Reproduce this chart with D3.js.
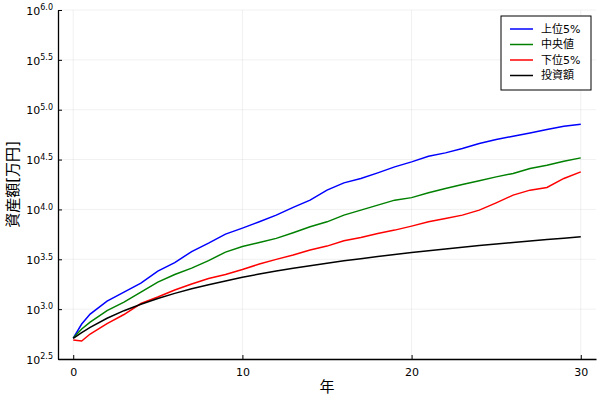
<!DOCTYPE html>
<html>
<head>
<meta charset="utf-8">
<script src="https://cdn.jsdelivr.net/npm/d3@7"></script>
<style>
  body { margin: 0; background: #fff; }
  text { font-family: "DejaVu Sans", "Noto Sans CJK JP", sans-serif; }
</style>
</head>
<body>
<div id="chart"></div>
<script>
// years since start
const years = [0, 0.5, 1, 2, 3, 4, 5, 6, 7, 8, 9, 10, 11, 12, 13, 14, 15,
  16, 17, 18, 19, 20, 21, 22, 23, 24, 25, 26, 27, 28, 29, 30];

// asset values in 万円
const top5 = [513, 709, 893, 1206, 1484, 1826, 2409, 2930, 3778, 4596, 5656,
  6494, 7511, 8768, 10471, 12394, 15610, 18475, 20446, 23266, 26724, 29992,
  34210, 36921, 40864, 45845, 50279, 54260, 58557, 63328, 68338, 71560];
const median = [513, 632, 742, 968, 1178, 1484, 1869, 2222, 2581, 3069, 3734,
  4239, 4669, 5122, 5829, 6694, 7511, 8768, 9840, 11044, 12394, 13129,
  14667, 16235, 17803, 19349, 21214, 22947, 25751, 27791, 30479, 32885];
const bottom5 = [490, 479, 563, 717, 883, 1138, 1322, 1554, 1784, 2026, 2222,
  2494, 2831, 3155, 3485, 3910, 4288, 4845, 5241, 5749, 6203, 6803,
  7511, 8122, 8768, 9840, 11646, 13910, 15610, 16614, 20446, 23810];
const invested = [510, 580, 655, 810, 965, 1120, 1280, 1440, 1600, 1760, 1920,
  2090, 2250, 2410, 2570, 2730, 2890, 3050, 3210, 3370, 3530, 3700,
  3860, 4020, 4180, 4340, 4500, 4660, 4820, 4980, 5140, 5310];

const seriesNames = ["上位5%", "中央値", "下位5%", "投資額"];
const seriesColors = ["#0000ff", "#008000", "#ff0000", "#000000"];
const seriesValues = [top5, median, bottom5, invested];

const xTicks = [0, 10, 20, 30];
const yTickExps = ["2.5", "3.0", "3.5", "4.0", "4.5", "5.0", "5.5", "6.0"];

const width = 600, height = 400;
const margin = { top: 10, right: 4, bottom: 41, left: 58 };
const innerW = width - margin.left - margin.right;
const innerH = height - margin.top - margin.bottom;

const svg = d3.select("#chart").append("svg")
  .attr("width", width)
  .attr("height", height);

const g = svg.append("g")
  .attr("transform", `translate(${margin.left},${margin.top})`);

const x = d3.scaleLinear().domain([-0.9, 30.9]).range([0, innerW]);
const y = d3.scaleLog().domain([Math.pow(10, 2.5), Math.pow(10, 6)]).range([innerH, 0]);

// grid
g.append("g").selectAll("line").data(xTicks).enter().append("line")
  .attr("x1", d => x(d)).attr("x2", d => x(d))
  .attr("y1", 0).attr("y2", innerH)
  .attr("stroke", "#000").attr("stroke-opacity", 0.1).attr("stroke-width", 0.6);

g.append("g").selectAll("line").data(yTickExps).enter().append("line")
  .attr("x1", 0).attr("x2", innerW)
  .attr("y1", d => y(Math.pow(10, +d))).attr("y2", d => y(Math.pow(10, +d)))
  .attr("stroke", "#000").attr("stroke-opacity", 0.1).attr("stroke-width", 0.6);

// axes
const xAxis = g.append("g")
  .attr("transform", `translate(0,${innerH})`)
  .call(d3.axisBottom(x).tickValues(xTicks).tickSizeInner(-4).tickSizeOuter(0).tickPadding(9));
xAxis.select(".domain").attr("stroke-width", 1.3);
xAxis.selectAll("text").attr("font-size", 11).attr("fill", "#000");

const yAxis = g.append("g")
  .call(d3.axisLeft(y).tickValues(yTickExps.map(d => Math.pow(10, +d)))
    .tickSizeInner(-4).tickSizeOuter(0).tickPadding(6).tickFormat(""));
yAxis.select(".domain").attr("stroke-width", 1.3);

yAxis.selectAll(".tick").each(function (d, i) {
  const t = d3.select(this).append("text")
    .attr("x", -5).attr("dy", "0.38em")
    .attr("text-anchor", "end").attr("fill", "#000").attr("font-size", 11);
  t.append("tspan").text("10");
  t.append("tspan").attr("font-size", 8).attr("dy", "-0.55em").text(yTickExps[i]);
});

// axis labels
svg.append("text")
  .attr("x", margin.left + x(15)).attr("y", 392)
  .attr("text-anchor", "middle").attr("font-size", 15)
  .text("年");

svg.append("text")
  .attr("transform", `translate(18,${margin.top + innerH / 2}) rotate(-90)`)
  .attr("text-anchor", "middle").attr("font-size", 15)
  .text("資産額[万円]");

// lines
const line = d3.line()
  .x((d, i) => x(years[i]))
  .y(d => y(d));

seriesValues.forEach((vals, k) => {
  g.append("path")
    .datum(vals)
    .attr("fill", "none")
    .attr("stroke", seriesColors[k])
    .attr("stroke-width", 1.5)
    .attr("d", line);
});

// legend
const legend = svg.append("g").attr("transform", "translate(501,16)");
legend.append("rect")
  .attr("width", 90).attr("height", 74)
  .attr("fill", "#fff").attr("stroke", "#000").attr("stroke-width", 1);

seriesNames.forEach((name, k) => {
  const yy = 13 + k * 15.5;
  legend.append("line")
    .attr("x1", 9).attr("x2", 32).attr("y1", yy).attr("y2", yy)
    .attr("stroke", seriesColors[k]).attr("stroke-width", 1.5);
  legend.append("text")
    .attr("x", 40).attr("y", yy).attr("dy", "0.36em")
    .attr("font-size", 11).attr("fill", "#000")
    .text(name);
});
</script>
</body>
</html>
